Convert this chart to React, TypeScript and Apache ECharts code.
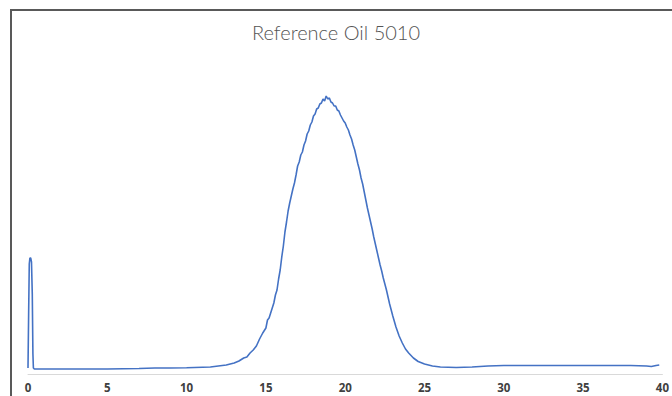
import React, { useEffect, useRef } from "react";
import * as echarts from "echarts";

const titleText = "Reference Oil 5010";
const xTicks = [0, 5, 10, 15, 20, 25, 30, 35, 40];

const retentionTime = [
  0, 0.04, 0.08, 0.12, 0.17, 0.22, 0.27, 0.31, 0.34, 0.4,
  1, 2, 3, 4, 5, 6, 7, 8, 9, 10, 11, 11.5, 12, 12.5, 13, 13.3, 13.6, 13.8,
  14.0, 14.2, 14.4, 14.6, 14.8, 15.0, 15.1, 15.2, 15.3, 15.4, 15.5, 15.6, 15.7, 15.8, 15.9,
  16.0, 16.1, 16.2, 16.3, 16.4, 16.5, 16.6, 16.7, 16.8, 16.9,
  17.0, 17.1, 17.2, 17.3, 17.4, 17.5, 17.6, 17.7, 17.8, 17.9,
  18.0, 18.1, 18.2, 18.3, 18.4, 18.5, 18.6, 18.7, 18.8, 18.9,
  19.0, 19.1, 19.2, 19.3, 19.4, 19.5, 19.6, 19.7, 19.8, 19.9,
  20.0, 20.1, 20.2, 20.3, 20.4, 20.5, 20.6, 20.7, 20.8, 20.9,
  21.0, 21.1, 21.2, 21.3, 21.4, 21.5, 21.6, 21.7, 21.8, 21.9,
  22.0, 22.1, 22.2, 22.3, 22.4, 22.5, 22.6, 22.8, 23.0, 23.2, 23.4, 23.6, 23.8,
  24.0, 24.3, 24.6, 25.0, 25.5, 26, 27, 28, 29, 30, 32, 34, 36, 38, 39, 39.3, 39.6, 39.8,
];

const signal = [
  6, 60, 110, 116, 116, 112, 80, 20, 6, 5,
  5, 5, 5, 5, 5, 5.3, 5.5, 6, 6, 6.3, 6.8, 7, 8, 9, 11, 13, 16, 17,
  21, 24, 28, 35, 41, 46, 54, 56, 61, 66, 71, 79, 84, 95, 104,
  117, 128, 142, 152, 163, 171, 178, 185, 191, 199,
  208, 212, 219, 222, 229, 233, 240, 243, 249, 252,
  258, 260, 265, 266, 270, 271, 275, 273, 278, 275,
  276, 272, 271, 268, 268, 264, 263, 259, 256, 253,
  251, 247, 244, 239, 235, 229, 224, 217, 210, 204,
  196, 190, 182, 174, 166, 159, 152, 145, 137, 130,
  123, 116, 109, 103, 96, 90, 84, 70, 58, 47, 38, 31, 25,
  21, 16, 12.5, 10, 8, 7, 6.5, 7, 8, 8.5, 8.5, 8.5, 8.5, 8.5, 8, 7.5, 8.5, 9,
];

export default function App() {
  const ref = useRef<HTMLDivElement>(null);
  useEffect(() => {
    if (!ref.current) return;
    const chart = echarts.init(ref.current, undefined, { renderer: "svg" });
    const data = retentionTime.map((t, i) => [t, signal[i]]);
    chart.setOption({
      animation: false,
      title: {
        text: titleText,
        left: "center",
        top: 17,
        textStyle: {
          fontFamily: "Lato",
          fontWeight: 300,
          fontSize: 20,
          color: "#555555",
        },
      },
      grid: { left: 28, right: 9, top: 74, bottom: 22 },
      xAxis: {
        type: "value",
        min: xTicks[0],
        max: xTicks[xTicks.length - 1],
        interval: 5,
        axisLine: { show: true, lineStyle: { color: "#d9d9d9", width: 1 } },
        axisTick: { show: false },
        splitLine: { show: false },
        axisLabel: {
          color: "#404040",
          fontWeight: "bold",
          fontSize: 11.5,
          fontFamily: "Open Sans",
          margin: 6,
          lineHeight: 14,
        },
      },
      yAxis: {
        type: "value",
        min: 0,
        max: 300,
        show: false,
        splitLine: { show: false },
      },
      graphic: [
        {
          type: "rect",
          shape: { x: 11, y: 10, width: 700, height: 420 },
          style: { fill: "none", stroke: "#595959", lineWidth: 2 },
          silent: true,
        },
      ],
      series: [
        {
          type: "line",
          data,
          showSymbol: false,
          lineStyle: { color: "#4472C4", width: 1.6 },
          itemStyle: { color: "#4472C4" },
        },
      ],
    });
    return () => chart.dispose();
  }, []);
  return <div ref={ref} style={{ width: 672, height: 396, position: "absolute", left: 0, top: 0 }} />;
}
